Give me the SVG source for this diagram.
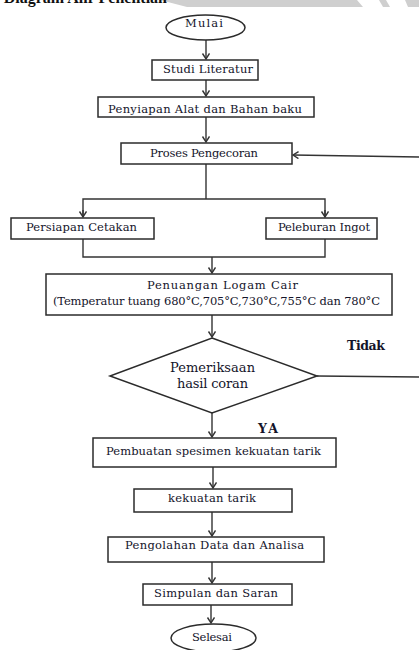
<svg xmlns="http://www.w3.org/2000/svg" width="419" height="650" viewBox="0 0 419 650">
<style>
  .box { fill: #fff; stroke: #2b2b2b; stroke-width: 1.5; }
  .t { font-family: "DejaVu Serif", "Liberation Serif", serif; font-size: 11.5px; fill: #14142a; text-anchor: middle; }
  .big { font-size: 13px; }
  .tb { font-family: "DejaVu Serif", "Liberation Serif", serif; font-size: 12.5px; font-weight: bold; fill: #14142a; }
  .ln { fill: none; stroke: #333; stroke-width: 1.4; }
  .wm { fill: #cfcfcf; }
</style>
<defs>
  <marker id="arr" markerUnits="userSpaceOnUse" markerWidth="10" markerHeight="10" refX="6" refY="4" orient="auto">
    <path d="M0.5,0.5 L6,4 L0.5,7.5" fill="none" stroke="#333" stroke-width="1.4"/>
  </marker>
</defs>
<rect width="419" height="650" fill="#fff"/>
<g id="watermark">
  <polygon class="wm" points="160,0 357,0 363,7 187,7"/>
  <polygon class="wm" points="379,0 386,0 390,7 383,7"/>
  <polygon class="wm" points="405,0 419,0 419,7 408,7"/>
  <text x="167" y="3" font-family="Liberation Serif, serif" font-size="16" font-weight="bold" text-anchor="end" fill="#111">Diagram Alir Penelitian</text>
</g>
<g id="connectors">
  <line class="ln" x1="206" y1="40" x2="206" y2="59" marker-end="url(#arr)"/>
  <line class="ln" x1="206" y1="80" x2="206" y2="96" marker-end="url(#arr)"/>
  <line class="ln" x1="206" y1="117" x2="206" y2="142" marker-end="url(#arr)"/>
  <polyline class="ln" points="206,164 206,199"/>
  <polyline class="ln" points="83,217 83,199 325,199 325,217"/>
  <line class="ln" x1="83" y1="210" x2="83" y2="217" marker-end="url(#arr)"/>
  <line class="ln" x1="325" y1="210" x2="325" y2="217" marker-end="url(#arr)"/>
  <polyline class="ln" points="83,239 83,257 325,257 325,239"/>
  <line class="ln" x1="212" y1="257" x2="212" y2="273" marker-end="url(#arr)"/>
  <line class="ln" x1="212" y1="315" x2="212" y2="337" marker-end="url(#arr)"/>
  <polyline class="ln" points="317,376 422,377 422,157"/>
  <line class="ln" x1="422" y1="157" x2="293" y2="155" marker-end="url(#arr)"/>
  <line class="ln" x1="212" y1="413" x2="212" y2="437" marker-end="url(#arr)"/>
  <line class="ln" x1="213" y1="467" x2="213" y2="488" marker-end="url(#arr)"/>
  <line class="ln" x1="212" y1="512" x2="212" y2="536" marker-end="url(#arr)"/>
  <line class="ln" x1="212" y1="562" x2="212" y2="583" marker-end="url(#arr)"/>
  <line class="ln" x1="211" y1="605" x2="211" y2="623" marker-end="url(#arr)"/>
</g>
<g id="mulai">
  <ellipse class="box" cx="205.5" cy="27.5" rx="39.5" ry="12.5"/>
  <text class="t" x="204" y="27" textLength="38">Mulai</text>
</g>
<g id="studi">
  <rect class="box" x="152" y="60" width="106" height="20"/>
  <text class="t" x="208" y="73" textLength="90">Studi Literatur</text>
</g>
<g id="penyiapan">
  <rect class="box" x="98" y="97" width="216" height="20"/>
  <text class="t" x="205" y="113" textLength="194">Penyiapan Alat dan Bahan baku</text>
</g>
<g id="proses">
  <rect class="box" x="121" y="143" width="171" height="21"/>
  <text class="t" x="204" y="157" textLength="108">Proses Pengecoran</text>
</g>
<g id="persiapan">
  <rect class="box" x="11" y="218" width="143" height="21"/>
  <text class="t" x="81.5" y="231" textLength="111">Persiapan Cetakan</text>
</g>
<g id="peleburan">
  <rect class="box" x="266" y="218" width="111" height="21"/>
  <text class="t" x="324" y="231" textLength="92">Peleburan Ingot</text>
</g>
<g id="penuangan">
  <rect class="box" x="46" y="274" width="346" height="41"/>
  <text class="t" x="222.5" y="289" textLength="151">Penuangan Logam Cair</text>
  <text class="t" x="216.5" y="305" textLength="327">(Temperatur tuang 680°C,705°C,730°C,755°C dan 780°C</text>
</g>
<g id="pemeriksaan">
  <polygon class="box" points="212,338 317,376 212,413 110,376"/>
  <text class="t big" x="212.5" y="372" textLength="85">Pemeriksaan</text>
  <text class="t big" x="212.5" y="388" textLength="71">hasil coran</text>
</g>
<g id="label-tidak">
  <text class="tb" x="347" y="350" textLength="38">Tidak</text>
</g>
<g id="label-ya">
  <text class="tb" x="258" y="433" textLength="20">YA</text>
</g>
<g id="pembuatan">
  <rect class="box" x="93" y="438" width="243" height="29"/>
  <text class="t" x="213.5" y="455" textLength="215">Pembuatan spesimen kekuatan tarik</text>
</g>
<g id="kekuatan">
  <rect class="box" x="134" y="489" width="158" height="23"/>
  <text class="t" x="212" y="502" textLength="88">kekuatan tarik</text>
</g>
<g id="pengolahan">
  <rect class="box" x="108" y="537" width="216" height="25"/>
  <text class="t" x="214.5" y="549" textLength="179">Pengolahan Data dan Analisa</text>
</g>
<g id="simpulan">
  <rect class="box" x="143" y="584" width="149" height="21"/>
  <text class="t" x="216" y="597" textLength="124">Simpulan dan Saran</text>
</g>
<g id="selesai">
  <ellipse class="box" cx="213.5" cy="638" rx="42.5" ry="14"/>
  <text class="t" x="212" y="641" textLength="40">Selesai</text>
</g>
</svg>
